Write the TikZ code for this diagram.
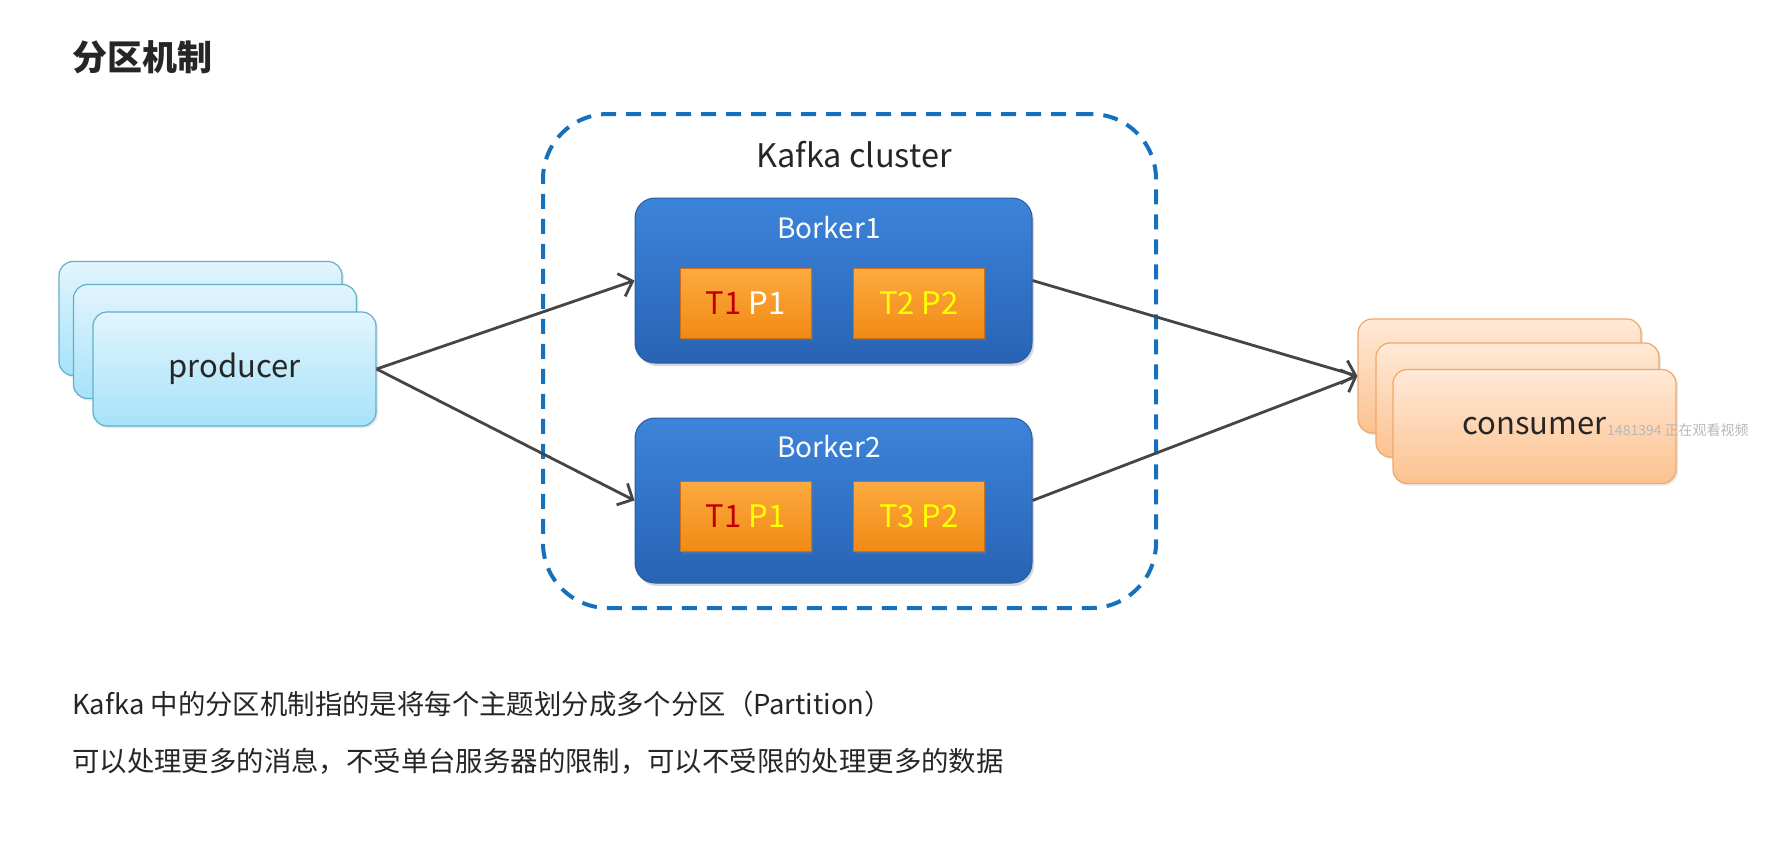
\documentclass[tikz,border=0pt]{standalone}
\usepackage{fontspec}
\setmainfont{Noto Sans CJK SC}
\usepackage{tikz}
\usetikzlibrary{arrows.meta, positioning, shadows}
\usepackage{xcolor}
\definecolor{Ink}{HTML}{262626}
\definecolor{Arrow}{HTML}{454545}
\definecolor{Dash}{HTML}{1570BE}
\definecolor{BTop}{HTML}{3C84DA}
\definecolor{BBot}{HTML}{2863B4}
\definecolor{BLine}{HTML}{2A5C9E}
\definecolor{OTop}{HTML}{FCAA40}
\definecolor{OBot}{HTML}{F28A14}
\definecolor{OLine}{HTML}{C8701A}
\definecolor{PTop}{HTML}{E2F5FD}
\definecolor{PBot}{HTML}{A6E2F9}
\definecolor{PLine}{HTML}{62AFCC}
\definecolor{CTop}{HTML}{FFE9D6}
\definecolor{CBot}{HTML}{FCC290}
\definecolor{CLine}{HTML}{EFA86A}
\definecolor{TRed}{HTML}{C00000}
\definecolor{TYel}{HTML}{FFFF00}

\newcommand{\fs}[1]{\fontsize{#1}{#1}\selectfont}

\begin{document}
\begin{tikzpicture}[x=1pt, y=-1pt,
  prodbox/.style={draw=PLine, line width=1.2pt, rounded corners=14pt,
    top color=PTop, bottom color=PBot, minimum width=283pt, minimum height=114pt,
    drop shadow={opacity=0.18, shadow xshift=2pt, shadow yshift=-2pt},
    font=\fs{31}, text=Ink},
  consbox/.style={prodbox, draw=CLine, top color=CTop, bottom color=CBot},
  brokerbox/.style={draw=BLine, line width=1pt, rounded corners=20pt,
    top color=BTop, bottom color=BBot, minimum width=397pt, minimum height=165pt,
    drop shadow={opacity=0.3, shadow xshift=2pt, shadow yshift=-3pt}},
  partbox/.style={draw=OLine, line width=1pt, top color=OTop, bottom color=OBot,
    minimum width=131pt, minimum height=70pt, font=\fs{31},
    drop shadow={opacity=0.35, shadow xshift=1.5pt, shadow yshift=-2pt}},
  conn/.style={draw=Arrow, line width=2.8pt,
    -{Straight Barb[length=12pt, width=24pt, line width=2.8pt]}},
  every node/.style={inner sep=0pt}]

  \useasboundingbox (0,0) rectangle (1780,863);

  % Title
  \node[anchor=west, font=\fs{35}\bfseries, text=Ink] (title) at (72,57) {分区机制};

  % Cluster frame
  \node[draw=Dash, line width=4pt, dash pattern=on 15pt off 10pt, rounded corners=65pt,
    minimum width=613pt, minimum height=494pt] (cluster) at (849.5,361) {};
  \node[font=\fs{32.5}, text=Ink] (clabel) at (854,155) {Kafka cluster};

  % Producers
  \foreach \n/\x/\y in {3/200.5/318.5, 2/215/341.5}
    \node[prodbox] (prod\n) at (\x,\y) {};
  \node[prodbox] (prod1) at (234.5,369) {\raisebox{-3pt}{producer}};

  % Consumers
  \foreach \n/\x/\y in {3/1499.5/376, 2/1517.5/400}
    \node[consbox] (cons\n) at (\x,\y) {};
  \node[consbox] (cons1) at (1534.5,426.5) {\raisebox{-3pt}{consumer}};
  \node[font=\fs{14}, text=black!28, anchor=west] (wmark) at (1607,430) {1481394 正在观看视频};

  % Brokers
  \node[brokerbox] (b1) at (833.5,280.5) {};
  \node[brokerbox] (b2) at (833.5,500.5) {};
  \node[font=\fs{28}, text=white] (b1name) at (829,228) {Borker1};
  \node[font=\fs{28}, text=white] (b2name) at (829,447) {Borker2};

  % Partitions
  \node[partbox] (p11) at (745.5,303) {\textcolor{TRed}{T1} \textcolor{white}{P1}};
  \node[partbox, text=TYel] (p12) at (919,303) {T2 P2};
  \node[partbox] (p21) at (745.5,516.5) {\textcolor{TRed}{T1} \textcolor{TYel}{P1}};
  \node[partbox, text=TYel] (p22) at (919,516.5) {T3 P2};

  % Flows
  \draw[conn] (prod1.east) -- (b1.west);
  \draw[conn] (prod1.east) -- (b2.west);
  \draw[conn] (b1.east) -- (cons3.west);
  \draw[conn] (b2.east) -- (cons3.west);

  % Notes
  \node[anchor=west, font=\fs{27.4}, text=Ink] (note1) at (72,704)
    {Kafka 中的分区机制指的是将每个主题划分成多个分区（Partition）};
  \node[anchor=west, font=\fs{27.4}, text=Ink] (note2) at (72,761)
    {可以处理更多的消息，不受单台服务器的限制，可以不受限的处理更多的数据};
\end{tikzpicture}
\end{document}
